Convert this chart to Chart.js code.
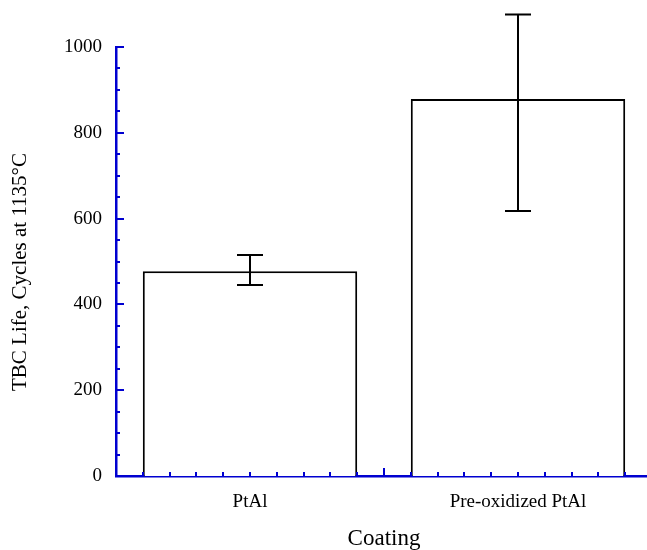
<!DOCTYPE html>
<html>
<head>
<meta charset="utf-8">
<script src="https://cdn.jsdelivr.net/npm/chart.js@4"></script>
<style>
  html, body { margin: 0; padding: 0; background: #fff; overflow: hidden; }
  #wrap { width: 660px; height: 550px; }
</style>
</head>
<body>
<div id="wrap"><canvas id="chart" width="660" height="550"></canvas></div>
<script>
// Dados
const categories = ["PtAl", "Pre-oxidized PtAl"];
const lifeValues = [477, 879];
const errLow = [445, 618];
const errHigh = [515, 1076];
const yTickValues = [0, 200, 400, 600, 800, 1000];

const axisBlue = "#0000d0";
const serif = "'Liberation Serif', 'DejaVu Serif', serif";

// barras de erro desenhadas por cima das barras
const errorBars = {
  id: "errorBars",
  afterDatasetsDraw(chart) {
    const ctx = chart.ctx;
    const y = chart.scales.y;
    const meta = chart.getDatasetMeta(0);
    ctx.save();
    ctx.strokeStyle = "#000";
    ctx.lineWidth = 2;
    meta.data.forEach(function (bar, i) {
      const top = y.getPixelForValue(errHigh[i]);
      const bot = y.getPixelForValue(errLow[i]);
      ctx.beginPath();
      ctx.moveTo(bar.x, top); ctx.lineTo(bar.x, bot);
      ctx.moveTo(bar.x - 13, top); ctx.lineTo(bar.x + 13, top);
      ctx.moveTo(bar.x - 13, bot); ctx.lineTo(bar.x + 13, bot);
      ctx.stroke();
    });
    ctx.restore();
  }
};

// marcas dos eixos voltadas para dentro
const innerTicks = {
  id: "innerTicks",
  afterDraw(chart) {
    const ctx = chart.ctx;
    const x = chart.scales.x, y = chart.scales.y;
    const area = chart.chartArea;
    ctx.save();
    ctx.strokeStyle = axisBlue;
    ctx.lineWidth = 2;
    ctx.beginPath();
    for (let v = 50; v <= 1000; v += 50) {
      const py = Math.round(y.getPixelForValue(v));
      const len = v % 200 === 0 ? 8 : 4;
      ctx.moveTo(area.left, py); ctx.lineTo(area.left + len, py);
    }
    for (let k = 1; k < 20; k++) {
      const px = Math.round(x.getPixelForDecimal(k / 20));
      const len = k === 10 ? 8 : 4;
      ctx.moveTo(px, area.bottom); ctx.lineTo(px, area.bottom - len);
    }
    ctx.stroke();
    ctx.restore();
  }
};

const ctx = document.getElementById("chart").getContext("2d");
new Chart(ctx, {
  type: "bar",
  data: {
    labels: categories,
    datasets: [{
      data: lifeValues,
      backgroundColor: "#ffffff",
      borderColor: "#000000",
      borderWidth: 2,
      borderSkipped: "bottom",
      barPercentage: 0.8,
      categoryPercentage: 1.0
    }]
  },
  options: {
    responsive: false,
    animation: false,
    layout: { padding: { top: 47, right: 8, left: 4, bottom: 0 } },
    plugins: {
      legend: { display: false },
      tooltip: { enabled: false }
    },
    scales: {
      x: {
        grid: { display: false, drawTicks: false },
        border: { display: true, color: axisBlue, width: 2.5 },
        ticks: { color: "#000", font: { family: serif, size: 19 }, padding: 15 },
        title: { display: true, text: "Coating", color: "#000", font: { family: serif, size: 23, lineHeight: 1 }, padding: { top: 4, bottom: 0 } },
        afterFit(scale) { scale.height = 74; }
      },
      y: {
        min: 0,
        max: 1000,
        afterBuildTicks(scale) { scale.ticks = yTickValues.map(v => ({ value: v })); },
        grid: { display: false, drawTicks: false },
        border: { display: true, color: axisBlue, width: 2.5 },
        ticks: { color: "#000", font: { family: serif, size: 19 }, padding: 14, callback: v => String(v) },
        title: { display: true, text: "TBC Life, Cycles at 1135°C\u00a0\u00a0\u00a0\u00a0", color: "#000", font: { family: serif, size: 21 }, padding: { top: 4, bottom: 0 } },
        afterFit(scale) { scale.width = 112; }
      }
    }
  },
  plugins: [errorBars, innerTicks]
});
</script>
</body>
</html>
